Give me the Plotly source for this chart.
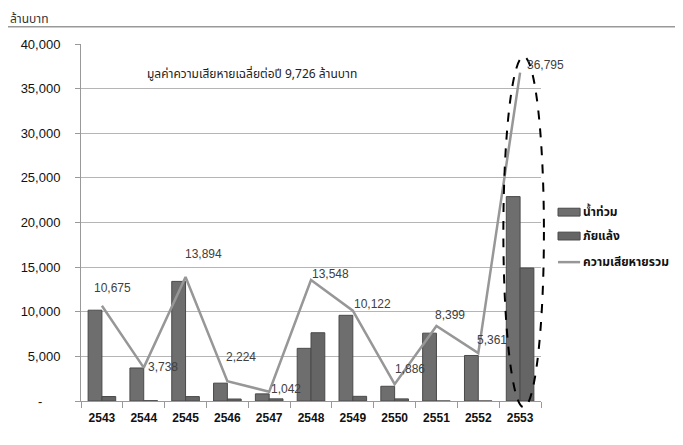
import plotly.graph_objects as go

years = ["2543", "2544", "2545", "2546", "2547", "2548", "2549", "2550", "2551", "2552", "2553"]
flood = [10175, 3700, 13400, 2000, 800, 5900, 9600, 1650, 7600, 5100, 22900]
drought = [500, 38, 494, 224, 242, 7648, 522, 236, 0, 0, 14900]
total = [10675, 3738, 13894, 2224, 1042, 13548, 10122, 1886, 8399, 5361, 36795]
total_labels = ["10,675", "3,738", "13,894", "2,224", "1,042", "13,548", "10,122", "1,886", "8,399", "5,361", "36,795"]
yticks = [0, 5000, 10000, 15000, 20000, 25000, 30000, 35000, 40000]
yticklabels = ["-\u00a0\u00a0\u00a0\u00a0\u00a0", "5,000", "10,000", "15,000", "20,000", "25,000", "30,000", "35,000", "40,000"]
legend_names = ["น้ำท่วม", "ภัยแล้ง", "ความเสียหายรวม"]

# label placement offsets (pixels) relative to each line point: (dx to left edge, dy up)
label_offsets = [(-9, 18), (3, 1), (-2, 23), (-2, 24), (1, 3), (0, 6),
                 (0, 7), (-1, 15), (-2, 11), (-2, 13), (6, 8)]

thai = "Noto Sans Thai, Tahoma, Noto Sans, sans-serif"
bar_colors = ["#6e6e6e", "#656565"]
line_color = "#979797"
x_range = [-0.5, len(years) - 0.5]
y_range = [0, 40000]

fig = go.Figure()
fig.add_trace(go.Bar(x=years, y=flood, name=legend_names[0],
                     marker=dict(color=bar_colors[0], line=dict(color="#4a4a4a", width=1))))
fig.add_trace(go.Bar(x=years, y=drought, name=legend_names[1],
                     marker=dict(color=bar_colors[1], line=dict(color="#4a4a4a", width=1))))
fig.add_trace(go.Scatter(x=years, y=total, name=legend_names[2], mode="lines",
                         line=dict(color=line_color, width=2.5)))

# value labels for the total line (category index positions)
for idx, (val, txt, (dx, dy)) in enumerate(zip(total, total_labels, label_offsets)):
    fig.add_annotation(x=idx, y=val, text=txt, showarrow=False, xanchor="left", yanchor="middle",
                       xshift=dx, yshift=dy, borderpad=0,
                       font=dict(family="Liberation Sans, Arial", size=12, color="#404040"))

# dashed ellipse highlighting the last year (paper coords derived from axis ranges, so it is not clipped)
i_last = len(years) - 1
def xp(v):
    return (v - x_range[0]) / (x_range[1] - x_range[0])
def yp(v):
    return (v - y_range[0]) / (y_range[1] - y_range[0])
fig.add_shape(type="circle", xref="paper", yref="paper",
              x0=xp(i_last - 0.40), x1=xp(i_last + 0.57), y0=yp(-700), y1=yp(max(total) + 1800),
              line=dict(color="black", width=2, dash="dash"))
# top separator line
fig.add_shape(type="line", xref="paper", yref="paper", x0=-0.18, x1=1.31, y0=1.048, y1=1.048,
              line=dict(color="#999999", width=1.5))

# manual legend
leg_y = [0.529, 0.462, 0.389]
for k in range(3):
    if k < 2:
        fig.add_shape(type="rect", xref="paper", yref="paper", x0=1.037, x1=1.085,
                      y0=leg_y[k] - 0.011, y1=leg_y[k] + 0.011,
                      fillcolor=bar_colors[k], line=dict(color="#4a4a4a", width=1))
    else:
        fig.add_shape(type="line", xref="paper", yref="paper", x0=1.037, x1=1.085,
                      y0=leg_y[k], y1=leg_y[k], line=dict(color=line_color, width=2.5))
    fig.add_annotation(text="<b>" + legend_names[k] + "</b>", xref="paper", yref="paper",
                       x=1.088, y=leg_y[k], xanchor="left", yanchor="middle", showarrow=False,
                       font=dict(family=thai, size=12, color="#111"))

fig.add_annotation(text="มูลค่าความเสียหายเฉลี่ยต่อปี 9,726 ล้านบาท", xref="paper", yref="paper",
                   x=0.372, y=0.947, showarrow=False, font=dict(family=thai, size=12, color="#222"))
fig.add_annotation(text="ล้านบาท", xref="paper", yref="paper", x=-0.159, y=1.1, xanchor="left",
                   yanchor="top", showarrow=False, font=dict(family=thai, size=12, color="#333"))

# page body has an 8px margin, so offset the plot area to land at the reference position
fig.update_layout(
    width=683, height=445,
    margin=dict(l=73, r=150, t=36, b=52),
    paper_bgcolor="white", plot_bgcolor="white",
    barmode="group", bargap=0.34, bargroupgap=0,
    showlegend=False,
)
fig.update_yaxes(range=y_range, tickvals=yticks, ticktext=yticklabels, automargin=False,
                 showgrid=True, gridcolor="#b5b5b5", gridwidth=1,
                 showline=True, linecolor="#999", linewidth=1,
                 ticks="outside", ticklen=5, tickcolor="#999",
                 tickfont=dict(family="Liberation Sans, Arial", size=13, color="#111"),
                 ticklabelstandoff=12, zeroline=False)
fig.update_xaxes(type="category", range=x_range,
                 showline=True, linecolor="#999", linewidth=1, automargin=False,
                 ticks="outside", ticklen=6, tickcolor="#999", tickson="boundaries",
                 tickfont=dict(family="Liberation Sans, Arial", size=12, color="#111"),
                 ticklabelstandoff=6)
fig.update_xaxes(tickprefix="<b>", ticksuffix="</b>")
fig.update_yaxes(tickprefix="<b>", ticksuffix="</b>")

fig.write_html("out.html")
